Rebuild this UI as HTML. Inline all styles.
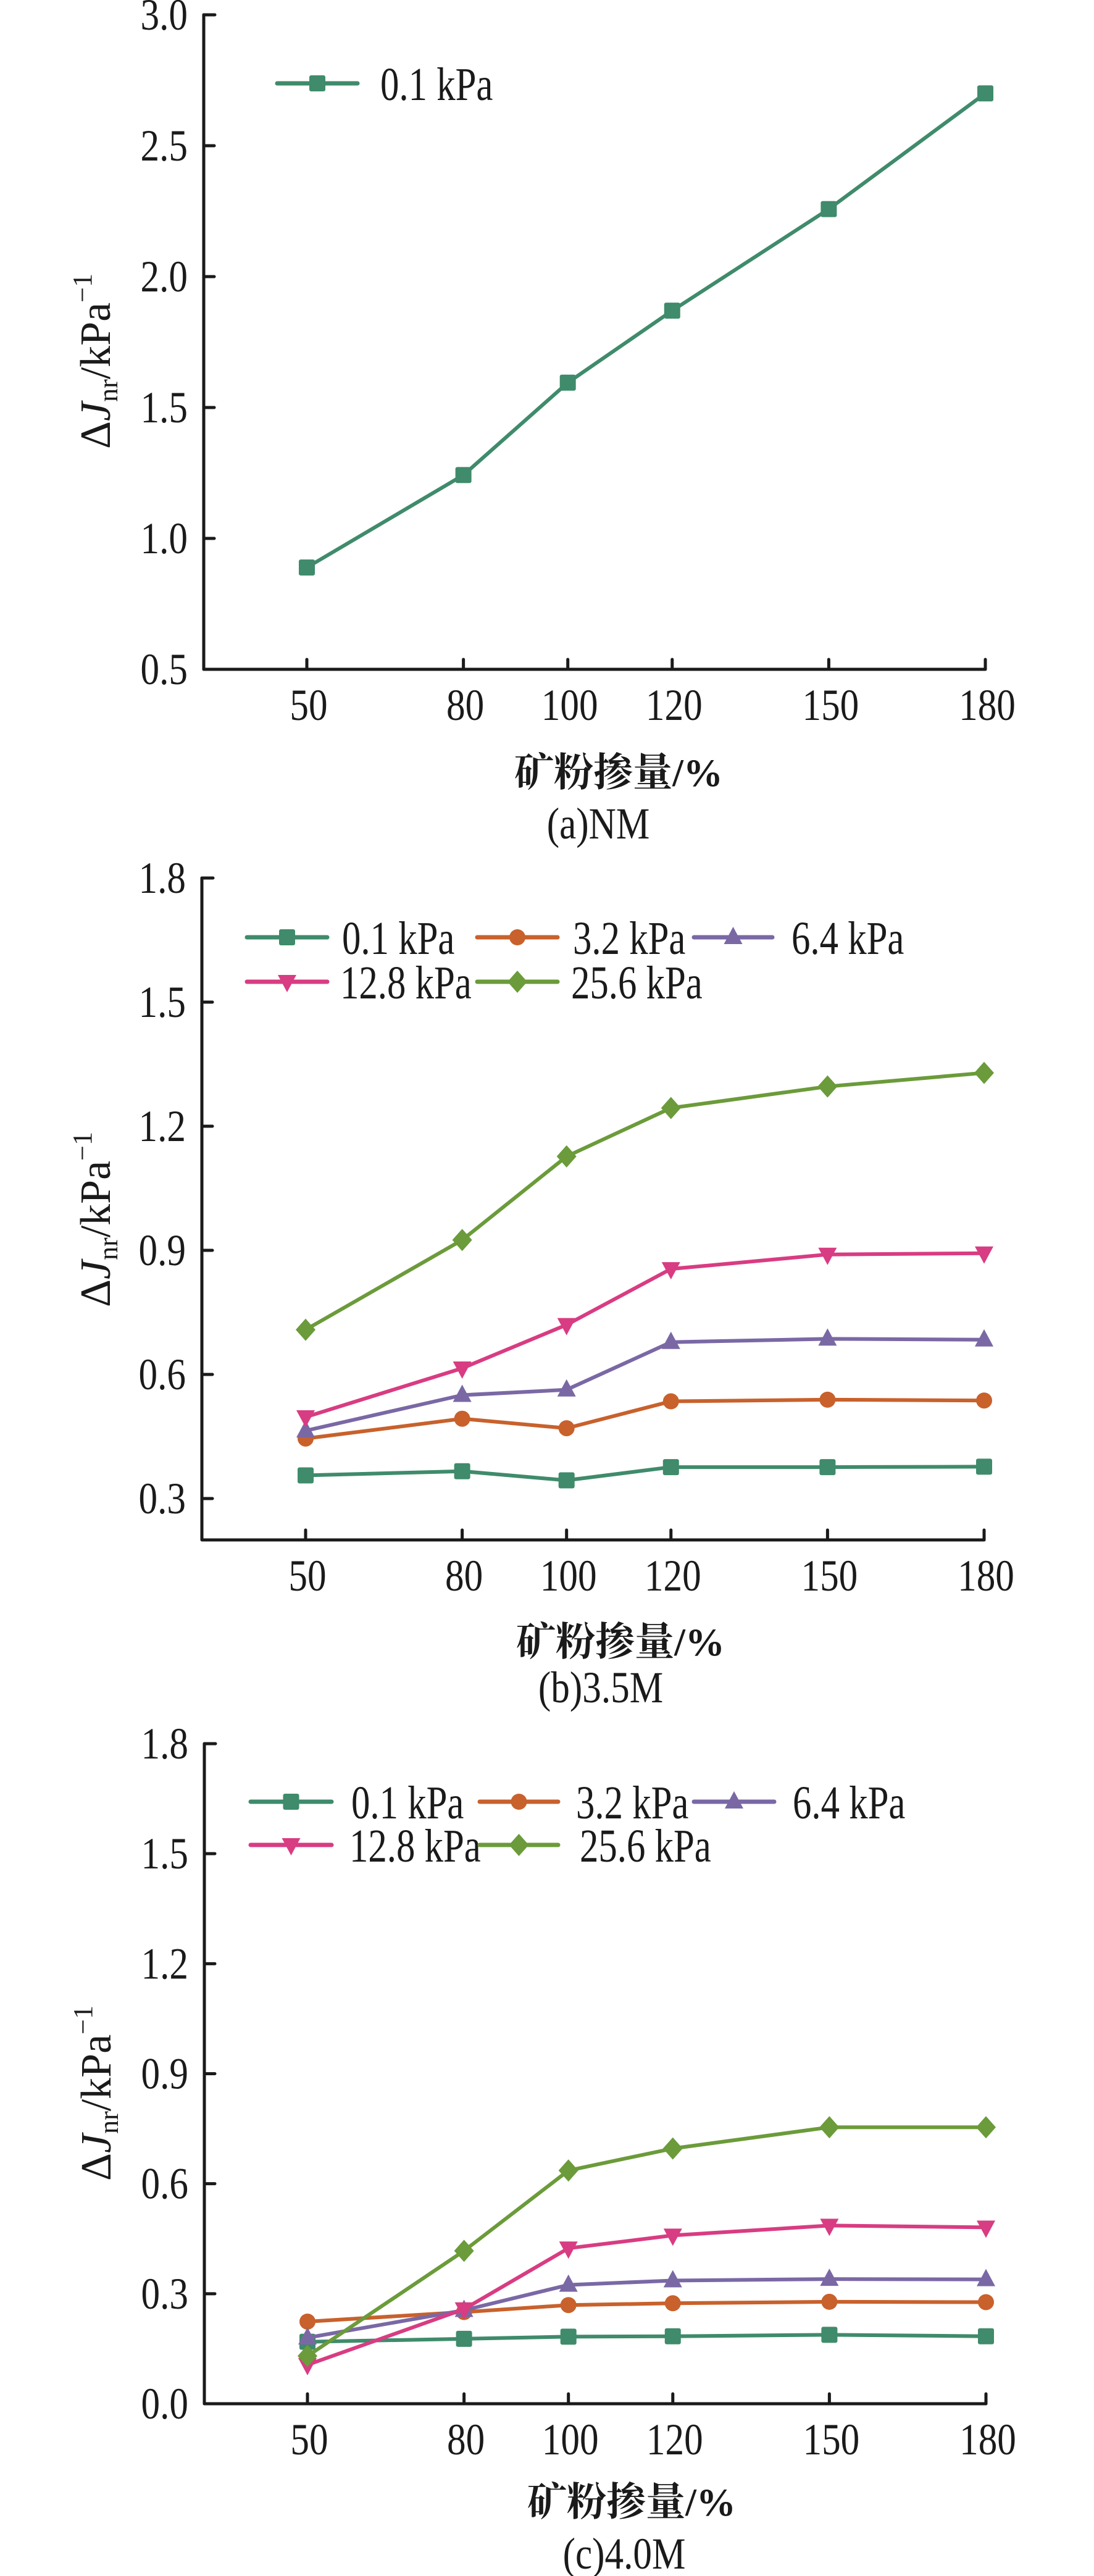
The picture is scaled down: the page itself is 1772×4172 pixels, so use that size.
<!DOCTYPE html>
<html><head><meta charset="utf-8"><style>
html,body{margin:0;padding:0;background:#fff;}
svg{display:block;}
</style></head><body>
<svg id="fig" width="1772" height="4172" viewBox="0 0 1772 4172" xmlns="http://www.w3.org/2000/svg"></svg>
<script>
const categories = [50, 80, 100, 120, 150, 180];
const seriesNames = ["0.1 kPa", "3.2 kPa", "6.4 kPa", "12.8 kPa", "25.6 kPa"];
const nmValues = [0.889, 1.242, 1.595, 1.870, 2.258, 2.700];
const m35_01 = [0.356, 0.366, 0.344, 0.376, 0.376, 0.377];
const m35_32 = [0.445, 0.493, 0.470, 0.535, 0.539, 0.537];
const m35_64 = [0.464, 0.550, 0.563, 0.678, 0.686, 0.684];
const m35_128 = [0.497, 0.615, 0.720, 0.855, 0.890, 0.893];
const m35_256 = [0.708, 0.925, 1.127, 1.244, 1.296, 1.329];
const m40_01 = [0.169, 0.177, 0.183, 0.184, 0.188, 0.184];
const m40_32 = [0.224, 0.250, 0.269, 0.274, 0.278, 0.277];
const m40_64 = [0.180, 0.255, 0.324, 0.336, 0.340, 0.339];
const m40_128 = [0.106, 0.258, 0.424, 0.459, 0.486, 0.481];
const m40_256 = [0.130, 0.417, 0.636, 0.696, 0.754, 0.754];
const ticksA = ["0.5","1.0","1.5","2.0","2.5","3.0"];
const ticksB = ["0.3","0.6","0.9","1.2","1.5","1.8"];
const ticksC = ["0.0","0.3","0.6","0.9","1.2","1.5","1.8"];

const NS = "http://www.w3.org/2000/svg";
const svg = document.getElementById('fig');
const colors = ["#3f8b6b","#c8612c","#7a68a5","#d83c82","#6b9b3a"];
const shapes = ["square","circle","up","down","diamond"];
const SERIF = '"Liberation Serif","Noto Serif CJK SC",serif';

function el(tag, attrs, parent){ const e=document.createElementNS(NS,tag); for(const k in attrs) e.setAttribute(k,attrs[k]); (parent||svg).appendChild(e); return e; }
function txt(parent,x,y,s,anchor,size,sx){ const t=el('text',{transform:`translate(${x},${y}) scale(${sx||1},1)`,'text-anchor':anchor,'font-size':size,'font-family':SERIF,fill:'#1a1a1a'},parent); t.textContent=s; return t; }
function marker(parent,shape,x,y,c){
  let m;
  if(shape==="square") m=el('rect',{x:x-13,y:y-13,width:26,height:26,rx:3,fill:c},parent);
  else if(shape==="circle") m=el('circle',{cx:x,cy:y,r:13,fill:c},parent);
  else if(shape==="up") m=el('polygon',{points:`${x},${y-17} ${x+15},${y+11} ${x-15},${y+11}`,fill:c},parent);
  else if(shape==="down") m=el('polygon',{points:`${x},${y+17} ${x+15},${y-11} ${x-15},${y-11}`,fill:c},parent);
  else m=el('polygon',{points:`${x},${y-18} ${x+16},${y} ${x},${y+18} ${x-16},${y}`,fill:c},parent);
  return m;
}

function chart(cfg){
  const g=el('g',{});
  
  
  const X0=cfg.ax, X50=cfg.x50, X180=cfg.x180;
  const sx=v=>X50+(v-50)*(X180-X50)/130;
  const sy=v=>cfg.yb-(v-cfg.ymin)*(cfg.yb-cfg.yt)/(cfg.ymaxT-cfg.ymin);
  const ax=el('path',{d:`M${X0},${sy(cfg.ymaxT)} H${X0+18} M${X0},${sy(cfg.ymaxT)} V${cfg.yb} H${X180}`,stroke:'#1a1a1a','stroke-width':5,fill:'none','stroke-linecap':'round','stroke-linejoin':'round'},g);
  
  
  cfg.ticks.forEach(t=>{
    const v=parseFloat(t), y=sy(v);
    el('line',{x1:X0,y1:y,x2:X0+17,y2:y,stroke:'#1a1a1a','stroke-width':5,'stroke-linecap':'round'},g);
    const l=txt(g,X0-26,y+24,t,'end',72,0.85);
    
    
  });
  categories.forEach(c=>{
    const x=sx(c);
    el('line',{x1:x,y1:cfg.yb,x2:x,y2:cfg.yb-16,stroke:'#1a1a1a','stroke-width':5,'stroke-linecap':'round'},g);
    const l=txt(g,x+3,cfg.yb+82,String(c),'middle',72,0.85);
    
    
  });
  cfg.series.forEach((vals,i)=>{
    const sg=el('g',{},g);
    
    
    const d=vals.map((v,j)=>(j?'L':'M')+sx(categories[j])+','+sy(v)).join(' ');
    el('path',{d:d,stroke:colors[i],'stroke-width':6,fill:'none','stroke-linejoin':'round'},sg);
    vals.forEach((v,j)=>{ const m=marker(sg,shapes[i],sx(categories[j]),sy(v),colors[i]);
      
       });
  });
  cfg.legend.forEach(L=>{
    const i=L.i;
    const lg=el('g',{},g);
    
    
    el('line',{x1:L.x1,y1:L.y,x2:L.x2,y2:L.y,stroke:colors[i],'stroke-width':7,'stroke-linecap':'round'},lg);
    marker(lg,shapes[i],(L.x1+L.x2)/2,L.y,colors[i]);
    txt(lg,L.tx+4,L.y+27,seriesNames[i],'start',76,0.8);
  });
  const yt=el('text',{transform:`translate(${cfg.ytx},${cfg.ytc}) rotate(-90)`,'text-anchor':'middle','font-size':70,'font-family':SERIF,fill:'#1a1a1a'},g);
  
  
  yt.innerHTML='Δ<tspan font-style="italic">J</tspan><tspan font-size="44" dy="12">nr</tspan><tspan dy="-12">/kPa</tspan><tspan font-size="44" dy="-30">−1</tspan>';
  const xt=el('text',{x:cfg.xtx,y:cfg.xty,'text-anchor':'middle','font-size':64,'font-weight':'bold','font-family':'"Liberation Serif","Noto Serif CJK SC",serif',fill:'#1a1a1a'},g);
  
  
  xt.textContent='矿粉掺量/%';
  const cp=txt(g,cfg.cx,cfg.cy,cfg.caption,'middle',72,0.85);
  
  
}

chart({name:'chart-nm',ax:330,x50:497,x180:1596,yt:24,yb:1084,ymin:0.5,ymaxT:3.0,ticks:ticksA,
  series:[nmValues],
  legend:[{i:0,x1:449,x2:579,y:135,tx:612}],
  ytx:178,ytc:585,xtx:1002,xty:1273,cx:969,cy:1358,caption:'(a)NM'});

chart({name:'chart-3-5m',ax:327,x50:495,x180:1594,yt:1422,yb:2494,ymin:0.2,ymaxT:1.8,ticks:ticksB,
  series:[m35_01,m35_32,m35_64,m35_128,m35_256],
  legend:[{i:0,x1:400,x2:530,y:1518,tx:550},{i:1,x1:773,x2:903,y:1518,tx:924},{i:2,x1:1124,x2:1251,y:1518,tx:1278},
          {i:3,x1:400,x2:530,y:1590,tx:547},{i:4,x1:773,x2:903,y:1590,tx:921}],
  ytx:178,ytc:1975,xtx:1005,xty:2681,cx:973,cy:2757,caption:'(b)3.5M'});

chart({name:'chart-4-0m',ax:331,x50:498,x180:1597,yt:2824,yb:3893,ymin:0.0,ymaxT:1.8,ticks:ticksC,
  series:[m40_01,m40_32,m40_64,m40_128,m40_256],
  legend:[{i:0,x1:406,x2:537,y:2918,tx:565},{i:1,x1:777,x2:904,y:2918,tx:929},{i:2,x1:1124,x2:1254,y:2918,tx:1280},
          {i:3,x1:406,x2:537,y:2988,tx:562},{i:4,x1:777,x2:904,y:2988,tx:935}],
  ytx:179,ytc:3390,xtx:1023,xty:4074,cx:1011,cy:4160,caption:'(c)4.0M'});
</script>
</body></html>
